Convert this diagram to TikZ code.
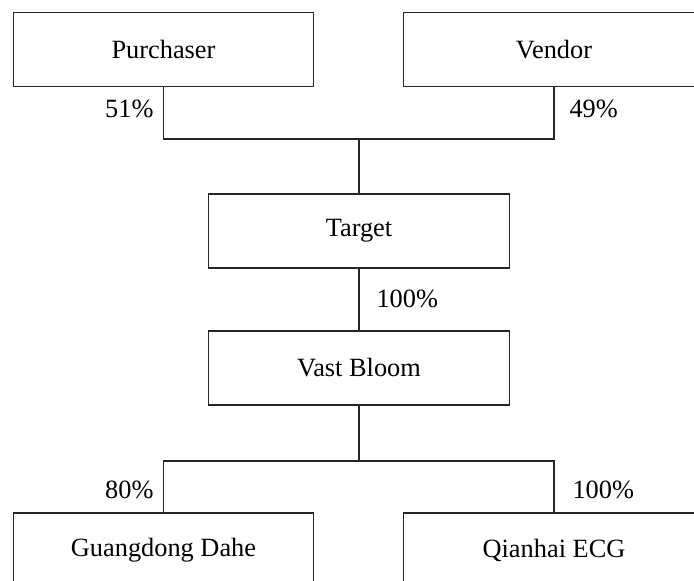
\documentclass[tikz,border=0pt]{standalone}
\usepackage{fontspec}
\setmainfont{Liberation Serif}

\begin{document}
\begin{tikzpicture}[x=0.02cm,y=-0.02cm,line width=0.6pt,draw=black!85]
    \tikzstyle{entity}=[rectangle,draw=black!85,fill=white,minimum width=6.02cm,minimum height=1.48cm,inner sep=0pt,font=\fontsize{15}{18}\selectfont]
    \tikzstyle{share}=[inner sep=0pt,font=\fontsize{15}{18}\selectfont]
    \useasboundingbox (0,0) rectangle (694,581);
    \clip (0,0) rectangle (694,581);

    \foreach \name/\x/\y/\txt in {Purchaser/163.5/49.5/Purchaser, Vendor/554/49.5/Vendor,
            Target/359/231/Target, VastBloom/359/368/Vast Bloom,
            Guangdong/163.5/550/Guangdong Dahe, Qianhai/554/550/Qianhai ECG}
        \node[entity] (\name) at (\x,\y) {\txt};

    \coordinate (top-joint) at (359,139);
    \coordinate (low-joint) at (359,461);

    \draw (Purchaser.south) |- (top-joint) -| (Vendor.south);
    \draw (top-joint) -- (Target.north);
    \draw (Target.south) -- (VastBloom.north);
    \draw (VastBloom.south) -- (low-joint);
    \draw (Guangdong.north) |- (low-joint) -| (Qianhai.north);

    \foreach \name/\x/\y/\pos/\txt in {s-P/154/118/base east/51\%, s-V/569/118/base west/49\%,
            s-T/376/308/base west/100\%, s-G/154/498/base east/80\%, s-Q/572/498/base west/100\%}
        \node[share,anchor=\pos] (\name) at (\x,\y) {\txt};
\end{tikzpicture}
\end{document}
